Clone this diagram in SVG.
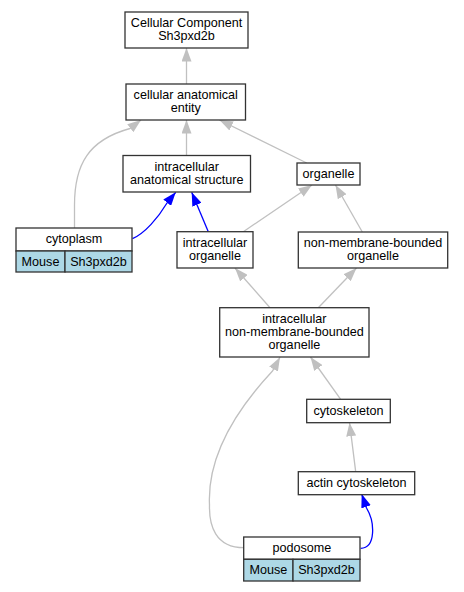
<svg xmlns="http://www.w3.org/2000/svg" width="464" height="592" viewBox="0 0 464 592">
<style>
text{font-family:"Liberation Sans",Arial,sans-serif;font-size:12.6px;fill:#000;text-anchor:middle}
.box{fill:#fff;stroke:#333;stroke-width:1.3}
.cell{fill:#add8e6;stroke:#333;stroke-width:1.3}
.e{fill:none;stroke:#c0c0c0;stroke-width:1.3}
.b{fill:none;stroke:#0000ff;stroke-width:1.3}
</style>
<defs>
<marker id="ag" markerUnits="userSpaceOnUse" markerWidth="14" markerHeight="10" refX="13.5" refY="5" orient="auto"><path d="M0,0 L13.5,5 L0,10 z" fill="#c0c0c0"/></marker>
<marker id="ab" markerUnits="userSpaceOnUse" markerWidth="14" markerHeight="10" refX="13.5" refY="5" orient="auto"><path d="M0,0 L13.5,5 L0,10 z" fill="#0000ff"/></marker>
</defs>
<rect width="464" height="592" fill="#fff"/>
<g id="edges">
<path class="e" marker-end="url(#ag)" d="M186.5,84 L186.5,48"/>
<path class="e" marker-end="url(#ag)" d="M186.5,155.5 L186.5,120"/>
<path class="e" marker-end="url(#ag)" d="M306.7,163 L219.5,120"/>
<path class="e" marker-end="url(#ag)" d="M74.5,228 L74.5,205 C74.5,165 88,140 130,128.5 L141,120"/>
<path class="b" marker-end="url(#ab)" d="M132.5,238.7 C145,233 158,218 167,203 L175.7,192.3"/>
<path class="b" marker-end="url(#ab)" d="M208.3,231.7 L191.7,192.3"/>
<path class="e" marker-end="url(#ag)" d="M243.3,231.7 L312,185"/>
<path class="e" marker-end="url(#ag)" d="M362.3,232 L335.5,185"/>
<path class="e" marker-end="url(#ag)" d="M270,307.7 L235,268"/>
<path class="e" marker-end="url(#ag)" d="M318.3,307.7 L356.5,268"/>
<path class="e" marker-end="url(#ag)" d="M340.7,399.3 L310.5,357"/>
<path class="e" marker-end="url(#ag)" d="M244,547.7 C215,547.7 209,525 209.5,505 C207,455 238,408 272.5,371 L280,357.3"/>
<path class="e" marker-end="url(#ag)" d="M355.7,471.7 L349.5,422.7"/>
<path class="b" marker-end="url(#ab)" d="M360.7,548.3 C376,548 375,522 366.5,508 L361.7,494"/>
</g>
<g id="n_cc">
<rect class="box" x="125" y="12" width="123" height="36"/>
<text x="186.5" y="27">Cellular Component</text>
<text x="186.5" y="40">Sh3pxd2b</text>
</g>
<g id="n_cae">
<rect class="box" x="126" y="84" width="119.5" height="36"/>
<text x="185.75" y="99">cellular anatomical</text>
<text x="185.75" y="112">entity</text>
</g>
<g id="n_ias">
<rect class="box" x="123" y="155.5" width="127.5" height="36.5"/>
<text x="186.75" y="170.75">intracellular</text>
<text x="186.75" y="183.75">anatomical structure</text>
</g>
<g id="n_organelle">
<rect class="box" x="297" y="163" width="63" height="22"/>
<text x="328.5" y="177.5">organelle</text>
</g>
<g id="n_cytoplasm">
<rect class="box" x="16" y="228" width="116" height="23"/>
<rect class="cell" x="16" y="251" width="49" height="21"/>
<rect class="cell" x="65" y="251" width="67" height="21"/>
<text x="74" y="243">cytoplasm</text>
<text x="40.5" y="265.5">Mouse</text>
<text x="98.5" y="265.5">Sh3pxd2b</text>
</g>
<g id="n_io">
<rect class="box" x="177" y="231.7" width="76" height="36.3"/>
<text x="215" y="246.85">intracellular</text>
<text x="215" y="259.85">organelle</text>
</g>
<g id="n_nmbo">
<rect class="box" x="298.3" y="232" width="149.4" height="36"/>
<text x="373" y="247">non-membrane-bounded</text>
<text x="373" y="260">organelle</text>
</g>
<g id="n_inmbo">
<rect class="box" x="219.7" y="307.7" width="149.3" height="49.3"/>
<text x="294.35" y="322.85">intracellular</text>
<text x="294.35" y="335.85">non-membrane-bounded</text>
<text x="294.35" y="348.85">organelle</text>
</g>
<g id="n_cytoskeleton">
<rect class="box" x="306.7" y="399.3" width="83.6" height="23.4"/>
<text x="348.5" y="414.5">cytoskeleton</text>
</g>
<g id="n_actin">
<rect class="box" x="298.3" y="471.7" width="116.4" height="23"/>
<text x="356.5" y="486.7">actin cytoskeleton</text>
</g>
<g id="n_podosome">
<rect class="box" x="243.7" y="537" width="116.3" height="22.3"/>
<rect class="cell" x="243.7" y="559.3" width="49.3" height="21.7"/>
<rect class="cell" x="293" y="559.3" width="67" height="21.7"/>
<text x="301.85" y="551.7">podosome</text>
<text x="268.35" y="574">Mouse</text>
<text x="326.5" y="574">Sh3pxd2b</text>
</g>
</svg>
